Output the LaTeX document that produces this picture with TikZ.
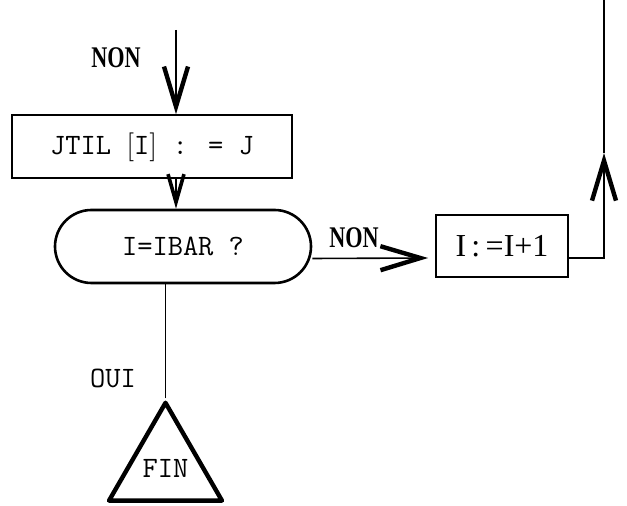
\documentclass[tikz,border=0pt]{standalone}
\usepackage{fontspec}
\usepackage{tikz}
\usetikzlibrary{arrows.meta,calc,shapes.geometric,shapes.misc}
\newfontfamily\labelfont{Liberation Serif}
\def\ttsize{\ttfamily\fontsize{14.8}{17}\selectfont}
\def\narrow#1{\scalebox{0.74}[1]{#1}}

\begin{document}
\begin{tikzpicture}[x=0.5pt, y=-0.5pt,
		box/.style={draw, line width=0.8pt, inner sep=0pt, font=\ttsize},
		test/.style={draw, rounded rectangle, line width=1.3pt, minimum width=128pt, minimum height=36.5pt, inner sep=0pt, font=\ttsize},
		finbox/.style={draw, regular polygon, regular polygon sides=3, minimum size=65.2pt, inner sep=0pt, line width=2.2pt, line join=round, font=\ttsize},
		answer/.style={inner sep=0pt, font=\labelfont\bfseries\fontsize{15}{17}\selectfont},
		barb/.style={-{Straight Barb[length=20pt, width=12pt, line width=2.2pt]}, line width=0.8pt},
		barbsmall/.style={-{Straight Barb[length=14pt, width=8pt, line width=1.8pt]}, line width=0.8pt}]
		%%%%% START %%%%%
		
		\useasboundingbox (0, 0) rectangle (627, 506);
		
		\coordinate (entry) at (176, 30);
		\coordinate (mid) at (604, 153);
		\coordinate (exit) at (604, 0);
		
		\node[box, minimum width=140pt, minimum height=31.5pt] (jtil) at (152, 146.5) {JTIL $\Big[$I$\Big]$ : = J};
		\node[test] (test) at (183, 246.5) {\raisebox{-4pt}{I=IBAR ?}};
		\node[box, line width=0.9pt, minimum width=66pt, minimum height=31pt, font=\labelfont\fontsize{16}{18}\selectfont] (incr) at (502, 246) {I\,:\,=I+1};
		\node[finbox] (fin) at (165.5, 468) {FIN};
		
		\node[answer] (nontop) at (116, 58) {\narrow{NON}};
		\node[font=\ttsize] (oui) at (113, 378) {OUI};
		
		\draw[barb] (entry) -- (entry |- jtil.north);
		\draw[barbsmall] (entry |- jtil.south) -- (entry |- test.north);
		\draw[barb] ($(test.east)+(0, 12)$) -- node[answer, pos=0.36, above=5pt] (nonright) {\narrow{NON}} ($(incr.west)+(-7, 12)$);
		
		\draw[barb] ($(incr.east)+(0, 12)$) -| (mid);
		\draw[line width=0.8pt] (mid) -- (exit);
		
		\draw[line width=0.5pt] (fin.north) -- (fin.north |- test.south);
		
		%%%%% END %%%%%
	\end{tikzpicture}
\end{document}
